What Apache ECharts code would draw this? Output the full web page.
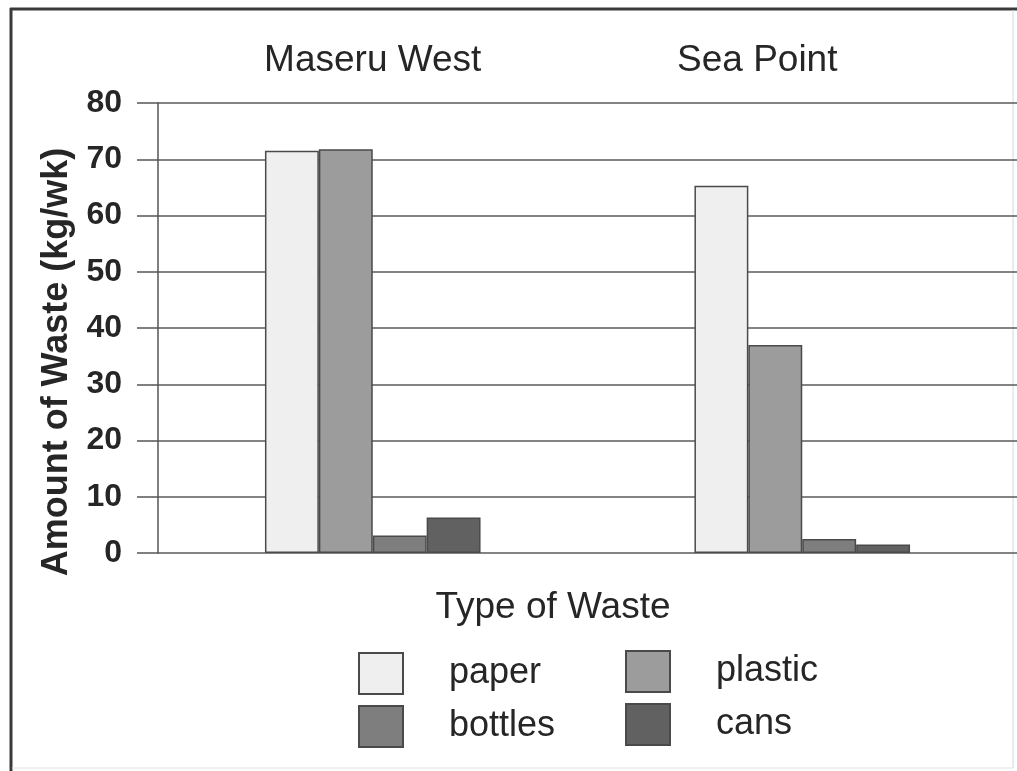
<!DOCTYPE html>
<html>
<head>
<meta charset="utf-8">
<script src="https://cdn.jsdelivr.net/npm/echarts@6/dist/echarts.min.js"></script>
<style>
html,body{margin:0;padding:0;background:#fff;}
#chart{width:1017px;height:771px;}
</style>
</head>
<body>
<div id="chart"></div>
<script>
const categories = ['Maseru West', 'Sea Point'];
const paper = [71.5, 65.3];
const plastic = [71.8, 37.0];
const bottles = [3.1, 2.5];
const cans = [6.3, 1.5];
const yTicks = [0, 10, 20, 30, 40, 50, 60, 70, 80];
const seriesNames = ['paper', 'plastic', 'bottles', 'cans'];

const FONT = '"Liberation Sans", Arial, sans-serif';
const TXT = '#262626';
const colors = { paper: '#efefef', plastic: '#9c9c9c', bottles: '#7e7e7e', cans: '#616161' };

function bar(name, data) {
  return {
    name: name, type: 'bar', data: data,
    barGap: '0%', barCategoryGap: '49.8%',
    itemStyle: { color: colors[name], borderColor: '#4a4a4a', borderWidth: 1.5 }
  };
}

const legendPos = [
  { left: 358, top: 652 },
  { left: 625, top: 650 },
  { left: 358, top: 705 },
  { left: 625, top: 703 }
];
const legends = seriesNames.map(function (n, i) {
  return {
    data: [n], left: legendPos[i].left, top: legendPos[i].top, padding: 0,
    itemWidth: 44, itemHeight: 41, icon: 'rect',
    textStyle: { fontFamily: FONT, fontSize: 36, color: TXT, padding: [7, 0, 0, 41] }
  };
});

const chart = echarts.init(document.getElementById('chart'));
chart.setOption({
  backgroundColor: '#ffffff',
  animation: false,
  textStyle: { fontFamily: FONT },
  grid: { left: 158, right: -15, top: 103, bottom: 218 },
  title: {
    text: 'Type of Waste', left: 548, top: 584, textAlign: 'center',
    textStyle: { fontFamily: FONT, fontSize: 37, fontWeight: 'normal', color: TXT }
  },
  legend: legends,
  xAxis: {
    type: 'category', data: categories, position: 'top',
    axisLine: { show: false }, axisTick: { show: false },
    axisLabel: {
      margin: 24, fontFamily: FONT, fontSize: 37, color: TXT,
      formatter: function (v, i) { return i === 1 ? '{b|' + v + '}' : '{a|' + v + '}'; },
      rich: {
        a: { fontFamily: FONT, fontSize: 37, color: TXT },
        b: { fontFamily: FONT, fontSize: 37, color: TXT, padding: [0, 90, 0, 0] }
      }
    }
  },
  yAxis: {
    type: 'value', min: yTicks[0], max: yTicks[yTicks.length - 1], interval: 10,
    name: 'Amount of Waste (kg/wk)', nameLocation: 'middle', nameRotate: 90, nameGap: 78,
    nameTextStyle: { fontFamily: FONT, fontSize: 36, fontWeight: 'bold', color: TXT, padding: [0, 68, 0, 0] },
    axisLine: { show: true, lineStyle: { color: '#555', width: 1.5 } },
    axisTick: { show: true, inside: false, length: 21, lineStyle: { color: '#555', width: 1.5 } },
    axisLabel: { margin: 36, fontFamily: FONT, fontSize: 32, fontWeight: 'bold', color: TXT },
    splitLine: { show: true, lineStyle: { color: '#5a5a5a', width: 1.5 } }
  },
  graphic: [
    { type: 'line', shape: { x1: 10, y1: 9, x2: 1017, y2: 9 }, style: { stroke: '#3a3a3a', lineWidth: 3 } },
    { type: 'line', shape: { x1: 11, y1: 8, x2: 11, y2: 771 }, style: { stroke: '#3a3a3a', lineWidth: 3 } },
    { type: 'line', shape: { x1: 1013, y1: 10, x2: 1013, y2: 768 }, style: { stroke: '#d8d8d8', lineWidth: 1 } },
    { type: 'line', shape: { x1: 12, y1: 768, x2: 1013, y2: 768 }, style: { stroke: '#e0e0e0', lineWidth: 1 } }
  ],
  series: [bar('paper', paper), bar('plastic', plastic), bar('bottles', bottles), bar('cans', cans)]
});
</script>
</body>
</html>
